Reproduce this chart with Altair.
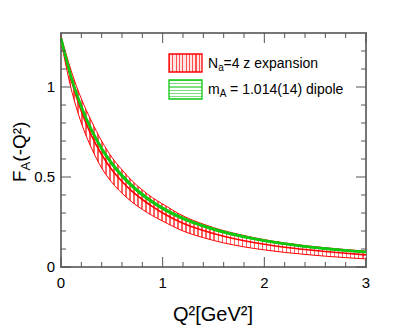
import altair as alt
import pandas as pd

# ---- data ----
q2 = [0.0, 0.1, 0.2, 0.3, 0.4, 0.5, 0.6, 0.7, 0.8, 0.9, 1.0,
      1.2, 1.4, 1.6, 1.8, 2.0, 2.2, 2.4, 2.6, 2.8, 3.0]
# m_A = 1.014(14) dipole band
dip_mid = [1.270, 1.055, 0.890, 0.761, 0.658, 0.575, 0.507, 0.450, 0.402, 0.361, 0.326,
           0.270, 0.228, 0.194, 0.168, 0.146, 0.129, 0.114, 0.102, 0.092, 0.083]
dip_lo = [1.262, 1.046, 0.880, 0.751, 0.648, 0.565, 0.497, 0.441, 0.393, 0.353, 0.318,
          0.263, 0.222, 0.188, 0.163, 0.142, 0.125, 0.110, 0.098, 0.088, 0.079]
dip_hi = [1.278, 1.064, 0.900, 0.771, 0.668, 0.585, 0.517, 0.459, 0.411, 0.369, 0.334,
          0.277, 0.234, 0.200, 0.173, 0.151, 0.133, 0.118, 0.106, 0.096, 0.087]
# N_a=4 z expansion band
z_mid = [1.270, 1.040, 0.865, 0.730, 0.625, 0.540, 0.475, 0.420, 0.375, 0.335, 0.300,
         0.243, 0.203, 0.171, 0.146, 0.126, 0.110, 0.097, 0.086, 0.076, 0.067]
z_lo = [1.255, 0.990, 0.800, 0.660, 0.550, 0.470, 0.410, 0.360, 0.320, 0.285, 0.255,
        0.200, 0.163, 0.134, 0.112, 0.095, 0.081, 0.070, 0.060, 0.052, 0.045]
z_hi = [1.285, 1.090, 0.935, 0.810, 0.700, 0.610, 0.540, 0.478, 0.428, 0.385, 0.350,
        0.284, 0.238, 0.202, 0.175, 0.152, 0.134, 0.119, 0.107, 0.097, 0.088]

x_major = [0, 1, 2, 3]
x_labels = ["0", "1", "2", "3"]
x_minor = [0.2, 0.4, 0.6, 0.8, 1.2, 1.4, 1.6, 1.8, 2.2, 2.4, 2.6, 2.8]
y_major = [0, 0.5, 1.0]
y_labels = ["0", "0.5", "1"]
y_minor = [0.1, 0.2, 0.3, 0.4, 0.6, 0.7, 0.8, 0.9, 1.1, 1.2]

legend_z = "=4 z expansion"
legend_d = "= 1.014(14) dipole"

FONT = "Liberation Sans"
RED = "#ff0000"
GREEN = "#10c810"
W, H = 305, 234

df = pd.DataFrame({"q2": q2, "dm": dip_mid, "dl": dip_lo, "dh": dip_hi,
                   "zm": z_mid, "zl": z_lo, "zh": z_hi})
one = pd.DataFrame({"k": [0]})

xs = alt.Scale(domain=[0, 3], nice=False, zero=False)
ys = alt.Scale(domain=[0, 1.3], nice=False, zero=False)


def stripes(n, frac, line, gap, vertical):
    stops = []
    for i in range(n):
        a = round(i / n, 5)
        b = round((i + frac) / n, 5)
        c = round((i + 1) / n, 5)
        stops += [alt.GradientStop(offset=a, color=line),
                  alt.GradientStop(offset=b, color=line),
                  alt.GradientStop(offset=b, color=gap),
                  alt.GradientStop(offset=c, color=gap)]
    if vertical:
        return alt.LinearGradient(gradient="linear", stops=stops, x1=0, x2=1, y1=0, y2=0)
    return alt.LinearGradient(gradient="linear", stops=stops, x1=0, x2=0, y1=0, y2=1)


def X(f):
    return alt.X(f"{f}:Q", scale=xs, axis=None)


def Y(f):
    return alt.Y(f"{f}:Q", scale=ys, axis=None)


base = alt.Chart(df)

red_area = base.mark_area(interpolate="monotone", opacity=1,
                          fill=stripes(76, 0.38, "#ff6060", "#ffffff", True)).encode(
    x=X("q2"), y=Y("zl"), y2="zh:Q")
red_lo = base.mark_line(interpolate="monotone", color=RED, strokeWidth=1).encode(x=X("q2"), y=Y("zl"))
red_hi = base.mark_line(interpolate="monotone", color=RED, strokeWidth=1).encode(x=X("q2"), y=Y("zh"))
red_mid = base.mark_line(interpolate="monotone", color=RED, strokeWidth=1.6).encode(x=X("q2"), y=Y("zm"))

grn_area = base.mark_area(interpolate="monotone", opacity=1,
                          fill=stripes(72, 0.45, "#30c830", "#90e090", False)).encode(
    x=X("q2"), y=Y("dl"), y2="dh:Q")
grn_lo = base.mark_line(interpolate="monotone", color=GREEN, strokeWidth=1).encode(x=X("q2"), y=Y("dl"))
grn_hi = base.mark_line(interpolate="monotone", color=GREEN, strokeWidth=1).encode(x=X("q2"), y=Y("dh"))
grn_mid = base.mark_line(interpolate="monotone", color=GREEN, strokeWidth=2.6).encode(x=X("q2"), y=Y("dm"))

TICK = "#555555"


def xticks(vals, ln):
    d = pd.DataFrame({"v": vals})
    b = alt.Chart(d).mark_rule(color=TICK, strokeWidth=1)
    return (b.encode(x=X("v"), y=alt.value(H), y2=alt.value(H - ln)) +
            b.encode(x=X("v"), y=alt.value(0), y2=alt.value(ln)))


def yticks(vals, ln):
    d = pd.DataFrame({"v": vals})
    b = alt.Chart(d).mark_rule(color=TICK, strokeWidth=1)
    return (b.encode(y=Y("v"), x=alt.value(0), x2=alt.value(ln)) +
            b.encode(y=Y("v"), x=alt.value(W), x2=alt.value(W - ln)))


ticks = xticks(x_major, 10) + xticks(x_minor, 5) + yticks(y_major, 10) + yticks(y_minor, 5)

xlab = alt.Chart(pd.DataFrame({"v": x_major, "t": x_labels})).mark_text(
    font=FONT, fontSize=15, align="center", baseline="alphabetic", color="black").encode(
    x=X("v"), y=alt.value(H + 20.5), text="t:N")
ylab = alt.Chart(pd.DataFrame({"v": y_major, "t": y_labels})).mark_text(
    font=FONT, fontSize=15, align="right", baseline="alphabetic", dy=5.4, color="black").encode(
    y=Y("v"), x=alt.value(-6), text="t:N")

# legend
leg = alt.Chart(one)
sw_red = leg.mark_rect(fill=stripes(10, 0.35, "#ff5050", "#ffe4e4", True),
                       stroke=RED, strokeWidth=1.3).encode(
    x=alt.value(108), x2=alt.value(141), y=alt.value(21), y2=alt.value(39))
sw_grn = leg.mark_rect(fill=stripes(6, 0.4, "#7ee07e", "#ffffff", False),
                       stroke=GREEN, strokeWidth=1.3).encode(
    x=alt.value(108), x2=alt.value(141), y=alt.value(47), y2=alt.value(66))


def txt(s, x, y, size, angle=0):
    return leg.mark_text(text=s, font=FONT, fontSize=size, align="left",
                         baseline="alphabetic", angle=angle, color="black").encode(
        x=alt.value(x), y=alt.value(y))


legend_txt = (txt("N", 147, 34.5, 14) + txt("a", 157.2, 37.5, 10) + txt(legend_z, 162.5, 34.5, 14) +
              txt("m", 147, 60.5, 14) + txt("A", 158.7, 63.5, 10) + txt(legend_d, 169.1, 60.5, 14))

xtitle = leg.mark_text(text="Q²[GeV²]", font=FONT, fontSize=20, align="center",
                       baseline="alphabetic", color="black").encode(
    x=alt.value(152), y=alt.value(288))
ytitle = txt("F", -35, 149, 19, 270) + txt("A", -31, 137.4, 13, 270) + txt("(-Q²)", -35, 128.7, 19, 270)

chart = alt.layer(red_area, red_lo, red_hi, red_mid, grn_area, grn_lo, grn_hi, grn_mid,
                  ticks, xlab, ylab, sw_red, sw_grn, legend_txt, xtitle, ytitle).properties(
    width=W, height=H,
    autosize=alt.AutoSizeParams(type="none"),
    padding={"left": 53, "top": 25, "right": 30, "bottom": 58},
).configure_view(stroke="#777777", strokeWidth=2)

chart.save("out.html", embed_options={"renderer": "svg", "actions": False})
